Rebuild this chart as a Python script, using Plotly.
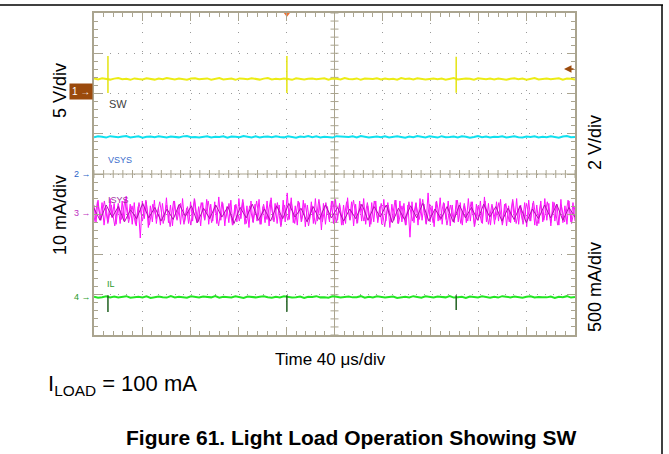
import numpy as np
import plotly.graph_objects as go

# ---------------- data (screen divisions; time in microseconds) ----------------
time_span_us = 400            # 10 div x 40 us/div
sw_level = 2.36               # CH1 trace level (div)
vsys_level = 0.92             # CH2 trace level (div)
isys_level = -0.97            # CH3 trace level (div)
il_level = -3.06              # CH4 trace level (div)

ch_marker_pos = [2.04, 0.0, -0.97, -3.06]   # channel ground markers 1..4 (div)
trig_level = 2.61                            # trigger level arrow (div)

# switching events (us)
spike_times = [11.6, 160.4, 301.2]
sw_spike_top = [2.93, 2.93, 2.91]
sw_spike_bot = [2.01, 2.01, 2.02]
il_dip_bot = [-3.43, -3.42, -3.38]

# trace ripple, in 0.005 div
sw_noise = [3,-2,4,0,-3,2,5,-1,1,-4,3,0,-2,4,1,-3,2,-1,5,0,
            -2,3,1,-4,2,4,-1,0,3,-3,1,5,-2,0,2,-4,3,1,-1,4,
            0,-3,2,5,-2,1,-1,3,0,-4,4,2,-2,1,3,-1,0,4,-3,2,
            1,-2,5,0,-1,3,-4,2,1,0,4,-2,3,-1,1,-3,5,0,2,-2,
            4,1,-3,0,3,-1,2,-4,1,5,-2,0,3,1,-3,4,0,-1,2,-2,
            3,0,-4,1,4,-1,2,-3,0,5,-2,1,3,-1,0,4,-3,2,1,-2]
vsys_noise = [-2,3,1,-3,4,0,-1,2,5,-2,0,3,-4,1,2,-1,4,0,-3,2,
              1,-2,3,5,-1,0,-3,2,4,-2,1,0,3,-4,2,1,-1,5,0,-2,
              3,-3,1,2,-1,4,0,-2,3,1,-4,2,0,5,-1,3,-2,1,0,-3,
              4,2,-1,0,3,-2,5,1,-3,0,2,-1,4,-2,1,3,0,-4,2,-1,
              5,0,-2,3,1,-3,4,-1,0,2,-2,3,1,-4,0,5,-1,2,-3,1,
              0,4,-2,1,3,-1,-3,2,0,4,-2,1,-1,3,0,-4,2,5,-1,0]
il_noise = [2,-3,0,4,-1,3,-2,1,5,-3,0,2,-1,4,-4,1,3,0,-2,5,
            -1,2,0,-3,4,1,-2,3,0,-1,5,-3,2,1,-2,4,0,-4,3,1,
            -1,2,5,0,-3,2,-1,4,1,-2,0,3,-4,2,1,5,-1,0,-3,4,
            2,-2,1,3,-1,0,5,-3,2,-1,4,0,-2,1,3,-4,0,2,-1,5,
            1,-3,4,0,-2,3,1,-1,5,-2,0,2,-4,3,1,-1,4,0,-3,2,
            -2,5,1,-1,3,0,-3,2,4,-2,1,0,-1,3,-4,2,0,5,-2,1]
# ISYS ripple, in 0.01 div
isys_noise = [20,-24,32,-16,26,-30,14,-22,36,-12,24,-28,18,-26,30,-20,42,-14,22,-28,
              26,-32,16,-62,30,-14,28,-36,18,-22,32,-26,14,-30,24,-18,38,-24,20,-32,
              30,-14,20,-28,36,-22,12,-26,28,-20,34,-24,16,-32,26,-16,34,-28,22,-20,
              28,-26,40,-18,24,-32,16,-24,32,-30,20,-22,36,-14,26,-28,18,-36,30,-22,
              22,-20,34,-28,16,-24,30,-32,38,-18,24,-26,20,-30,32,-22,50,-16,38,-24,
              18,-30,26,-22,32,-34,20,-18,28,-26,36,-20,22,-42,24,-28,16,-22,30,-26,
              34,-18,24,-30,20,-26,38,-16,28,-32,22,-24,30,-20,36,-28,18,-34,26,-22,
              30,-24,16,-28,34,-20,26,-36,22,-18,32,-26,30,-22,24,-30,20,-60,28,-24,
              26,-30,36,-18,22,-26,50,-22,18,-34,28,-20,38,-28,24,-16,30,-32,20,-24,
              32,-22,26,-30,18,-24,36,-20,28,-34,22,-18,30,-26,40,-22,24,-30,16,-28,
              28,-20,34,-26,22,-32,18,-24,30,-22,36,-28,20,-18,26,-34,32,-20,24,-30,
              20,-26,30,-22,36,-18,24,-32,28,-20,22,-30,34,-24,18,-28,30,-22,26,-20]
isys_light = [-22,28,-18,30,-26,20,-32,24,-16,34,-24,18,-28,26,-20,32,-30,22,-14,28,
              -26,20,-34,30,-18,24,-28,16,-30,36,-22,26,-18,30,-24,20,-32,28,-16,24,
              -30,22,-20,34,-26,18,-24,30,-28,22,-16,32,-22,26,-34,20,-18,28,-26,30,
              -20,24,-32,18,-28,34,-22,26,-16,30,-24,20,-30,28,-18,32,-26,22,-20,26,
              -28,30,-18,24,-34,20,-22,32,-26,18,-30,28,-20,24,-16,34,-28,22,-24,30,
              -18,26,-30,20,-22,32,-26,24,-20,28,-32,18,-24,30,-28,22,-16,26,-30,24,
              -22,34,-26,18,-28,24,-20,30,-32,22,-18,28,-24,26,-30,20,-22,32,-26,18]
isys_dark = [12,-18,20,-10,16,-22,8,-14,24,-12,14,-20,10,-16,22,-8,18,-24,12,-14,
             20,-10,16,-26,14,-12,22,-18,10,-20,18,-14,24,-10,12,-22,16,-16,20,-12,
             14,-20,10,-14,22,-18,16,-10,20,-24,12,-16,18,-12,24,-20,10,-14,16,-22,
             20,-12,14,-18,22,-10,16,-20,12,-16,18,-24,10,-14,20,-12,22,-18,14,-10]

# ---------------- styling ----------------
W, H = 669, 454
X0, X1, Y0, Y1 = 94, 575, 13, 335      # scope screen in pixels
FRAME = "#aaa48f"
GRID = "#9a9a9a"
FONT = "Liberation Sans, Arial, sans-serif"

def px_x(p):
    return p / W

def px_y(p):
    return 1 - p / H

fig = go.Figure()

# centre cross with its small tick marks
cx, cy = [], []
cx += [time_span_us / 2, time_span_us / 2, None, 0, time_span_us, None]
cy += [-4, 4, None, 0, 0, None]
half_w = 4 * time_span_us / (X1 - X0)
half_h = 4 * 8 / (Y1 - Y0)
for k in range(0, 51):
    t = k * 8
    cx += [t, t, None]
    cy += [-half_h, half_h, None]
for k in range(0, 41):
    v = -4 + k * 0.2
    cx += [time_span_us / 2 - half_w, time_span_us / 2 + half_w, None]
    cy += [v, v, None]
fig.add_trace(go.Scatter(x=cx, y=cy, mode="lines", line=dict(color=FRAME, width=1),
                         hoverinfo="skip", showlegend=False))

def noisy(level, noise, unit):
    t = np.linspace(0, time_span_us, len(noise))
    return t, level + np.array(noise) * unit

def segs(times, lo, hi):
    xs, ys = [], []
    for t, a, b in zip(times, lo, hi):
        xs += [t, t, None]
        ys += [a, b, None]
    return xs, ys

def line(x, y, color, width):
    fig.add_trace(go.Scatter(x=x, y=y, mode="lines", line=dict(color=color, width=width),
                             hoverinfo="skip", showlegend=False))

# CH1 SW (yellow)
t, y = noisy(sw_level, sw_noise, 0.005)
line(t, y, "#ecec14", 2)
sx, sy = segs(spike_times, sw_spike_bot, sw_spike_top)
line(sx, sy, "#e4e410", 1.5)

# CH2 VSYS (cyan)
t, y = noisy(vsys_level, vsys_noise, 0.005)
line(t, y, "#10e0ee", 2)

# CH3 ISYS (magenta)
t, y = noisy(isys_level, isys_noise, 0.01)
line(t, y, "#ff10ff", 1)
t, y = noisy(isys_level, isys_light, 0.01)
line(t, y, "#f020f0", 1)
t, y = noisy(isys_level, isys_dark, 0.01)
line(t, y, "#b010b0", 1)

# CH4 IL (green)
t, y = noisy(il_level, il_noise, 0.005)
line(t, y, "#22e622", 2)
dx, dy = segs(spike_times, il_dip_bot, [il_level + 0.05] * len(spike_times))
line(dx, dy, "#1f601f", 1.5)

# trigger position marker on top edge
fig.add_trace(go.Scatter(x=[spike_times[1]], y=[4], mode="markers",
                         marker=dict(symbol="triangle-down", size=8, color="#f07030"),
                         cliponaxis=False, hoverinfo="skip", showlegend=False))

fig.update_xaxes(domain=[px_x(X0), px_x(X1)], range=[0, time_span_us],
                 showline=True, linecolor=FRAME, linewidth=2, mirror="allticks",
                 showgrid=True, gridcolor=GRID, gridwidth=1, griddash="1px,8.6px",
                 dtick=40, tick0=0, ticks="inside", ticklen=8, tickcolor=FRAME, tickwidth=1,
                 minor=dict(dtick=8, tick0=0, ticks="inside", ticklen=4, tickcolor=FRAME,
                            showgrid=False),
                 showticklabels=False, zeroline=False, fixedrange=True)
fig.update_yaxes(domain=[px_y(Y1), px_y(Y0)], range=[-4, 4],
                 showline=True, linecolor=FRAME, linewidth=2, mirror="allticks",
                 showgrid=True, gridcolor=GRID, gridwidth=1, griddash="1px,7.05px",
                 dtick=1, tick0=0, ticks="inside", ticklen=8, tickcolor=FRAME, tickwidth=1,
                 minor=dict(dtick=0.2, tick0=0, ticks="inside", ticklen=4, tickcolor=FRAME,
                            showgrid=False),
                 showticklabels=False, zeroline=False, fixedrange=True)

ann = []
def text(x, y, s, size, color="#000000", angle=0, xanchor="center", yref="paper", **kw):
    ann.append(dict(x=x, y=y, xref="paper", yref=yref, text=s, showarrow=False,
                    textangle=angle, xanchor=xanchor, yanchor="middle",
                    font=dict(family=FONT, size=size, color=color), **kw))

# channel labels on screen
text(px_x(107), px_y(104), "SW", 11, "#404040", xanchor="left")
text(px_x(106), px_y(160), "VSYS", 9, "#3a6ccc", xanchor="left")
text(px_x(106), px_y(200), "ISYS", 9, "#a030a0", xanchor="left")
text(px_x(105), px_y(284), "IL", 9, "#2a9a2a", xanchor="left")

# channel markers on the left
text(px_x(93), ch_marker_pos[0], "1 \u2192", 10, "#ffffff", xanchor="right", yref="y",
     bgcolor="#9b4a0c", borderpad=2)
text(px_x(93), ch_marker_pos[1], "2 \u2192", 9, "#2a62c8", xanchor="right", yref="y")
text(px_x(93), ch_marker_pos[2], "3 \u2192", 9, "#c030c0", xanchor="right", yref="y")
text(px_x(93), ch_marker_pos[3], "4 \u2192", 9, "#2a9a2a", xanchor="right", yref="y")

# trigger level arrow on the right edge
ann.append(dict(x=px_x(564), y=trig_level, xref="paper", yref="y", text="",
                showarrow=True, ax=11, ay=0, arrowhead=2, arrowsize=1, arrowwidth=1.5,
                arrowcolor="#9b4a0c"))

# scale labels
text(px_x(60), px_y(91), "5 V/div", 18, angle=-90)
text(px_x(60), px_y(215), "10 mA/div", 18, angle=-90)
text(px_x(595), px_y(143), "2 V/div", 18, angle=-90)
text(px_x(595), px_y(287), "500 mA/div", 18, angle=-90)
text(px_x(330), px_y(359), "Time 40 \u03bcs/div", 17)
text(px_x(46), px_y(385), "I<sub>LOAD</sub> = 100 mA", 22, xanchor="left")
text(px_x(351), px_y(437), "<b>Figure 61. Light Load Operation Showing SW</b>", 21)

shapes = [
    dict(type="line", xref="paper", yref="paper", x0=0, x1=px_x(663), y0=px_y(5), y1=px_y(5),
         line=dict(color="#000000", width=1.5)),
    dict(type="line", xref="paper", yref="paper", x0=px_x(662), x1=px_x(662), y0=px_y(5), y1=0,
         line=dict(color="#000000", width=1.5)),
]

fig.update_layout(width=W, height=H, margin=dict(l=0, r=0, t=0, b=0),
                  paper_bgcolor="#ffffff", plot_bgcolor="#ffffff",
                  annotations=ann, shapes=shapes, showlegend=False)

fig.write_html("out.html", config={"displayModeBar": False},
               post_script="document.body.style.margin='0px';document.body.style.overflow='hidden';")
